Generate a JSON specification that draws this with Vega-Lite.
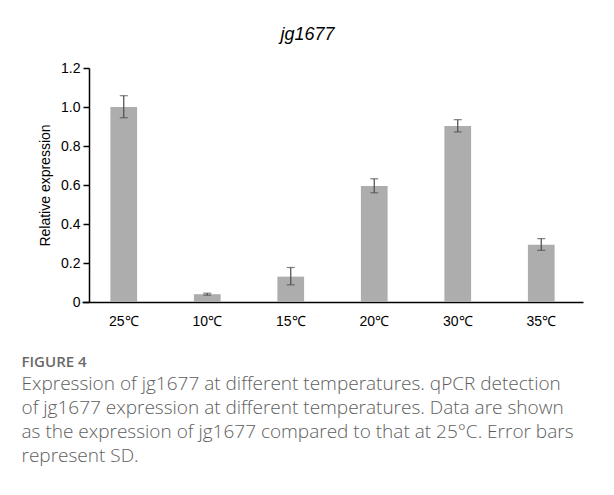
{
  "$schema": "https://vega.github.io/schema/vega-lite/v6.json",
  "background": "white",
  "padding": {"left": 21, "top": 26, "right": 30, "bottom": 30},
  "title": {
    "text": "FIGURE 4",
    "subtitle": ["Expression of jg1677 at different temperatures. qPCR detection", "of jg1677 expression at different temperatures. Data are shown", "as the expression of jg1677 compared to that at 25°C. Error bars", "represent SD."],
    "orient": "bottom",
    "anchor": "start",
    "frame": "bounds",
    "font": "Open Sans",
    "fontSize": 15,
    "fontWeight": 600,
    "color": "#6a6a6a",
    "subtitleFont": "Open Sans",
    "subtitleFontSize": 19,
    "subtitleFontWeight": 300,
    "subtitleColor": "#5e5e5e",
    "subtitleLineHeight": 24,
    "subtitlePadding": 5,
    "offset": 27,
    "dx": -17
  },
  "vconcat": [
    {
      "width": 501,
      "height": 234,
      "title": {"text": "jg1677", "font": "Liberation Sans", "fontStyle": "italic", "fontWeight": "normal", "fontSize": 18, "color": "black", "offset": 17, "dx": -25},
      "data": {"values": [
        {"temp": "25℃", "value": 1.0, "lo": 0.945, "hi": 1.058},
        {"temp": "10℃", "value": 0.04, "lo": 0.035, "hi": 0.045},
        {"temp": "15℃", "value": 0.13, "lo": 0.088, "hi": 0.177},
        {"temp": "20℃", "value": 0.595, "lo": 0.56, "hi": 0.632},
        {"temp": "30℃", "value": 0.902, "lo": 0.872, "hi": 0.935},
        {"temp": "35℃", "value": 0.294, "lo": 0.265, "hi": 0.325}
      ]},
      "encoding": {
        "x": {"field": "temp", "type": "nominal", "sort": null,
          "scale": {"paddingInner": 0.68, "paddingOuter": 0.34},
          "axis": {"title": null, "labelAngle": 0, "ticks": false, "domainColor": "black", "domainWidth": 1.5, "labelFont": "Liberation Sans", "labelFontSize": 14, "labelColor": "black", "labelPadding": 12}}
      },
      "layer": [
        {"mark": {"type": "bar", "color": "#adadad"},
         "encoding": {"y": {"field": "value", "type": "quantitative", "scale": {"domain": [0, 1.2], "nice": false},
           "axis": {"title": "Relative expression", "values": [0, 0.2, 0.4, 0.6, 0.8, 1.0, 1.2], "labelExpr": "datum.value == 0 ? '0' : format(datum.value, '.1f')", "labelOverlap": false, "grid": false, "offset": -7, "domainColor": "black", "domainWidth": 1.5, "tickColor": "black", "tickWidth": 1.5, "tickSize": 6, "labelFont": "Liberation Sans", "labelFontSize": 14, "labelColor": "black", "labelPadding": 3, "titleFont": "Liberation Sans", "titleFontSize": 14, "titleFontWeight": "normal", "titleColor": "black", "titlePadding": 8}}}},
        {"mark": {"type": "rule", "color": "#4a4a4a", "strokeWidth": 1.2},
         "encoding": {"y": {"field": "lo", "type": "quantitative",
           "axis": {"title": "Relative expression", "values": [0, 0.2, 0.4, 0.6, 0.8, 1.0, 1.2], "labelExpr": "datum.value == 0 ? '0' : format(datum.value, '.1f')", "labelOverlap": false, "grid": false, "offset": -7, "domainColor": "black", "domainWidth": 1.5, "tickColor": "black", "tickWidth": 1.5, "tickSize": 6, "labelFont": "Liberation Sans", "labelFontSize": 14, "labelColor": "black", "labelPadding": 3, "titleFont": "Liberation Sans", "titleFontSize": 14, "titleFontWeight": "normal", "titleColor": "black", "titlePadding": 8}}, "y2": {"field": "hi"}}},
        {"mark": {"type": "tick", "color": "#4a4a4a", "size": 8, "thickness": 1.2},
         "encoding": {"y": {"field": "lo", "type": "quantitative",
           "axis": {"title": "Relative expression", "values": [0, 0.2, 0.4, 0.6, 0.8, 1.0, 1.2], "labelExpr": "datum.value == 0 ? '0' : format(datum.value, '.1f')", "labelOverlap": false, "grid": false, "offset": -7, "domainColor": "black", "domainWidth": 1.5, "tickColor": "black", "tickWidth": 1.5, "tickSize": 6, "labelFont": "Liberation Sans", "labelFontSize": 14, "labelColor": "black", "labelPadding": 3, "titleFont": "Liberation Sans", "titleFontSize": 14, "titleFontWeight": "normal", "titleColor": "black", "titlePadding": 8}}}},
        {"mark": {"type": "tick", "color": "#4a4a4a", "size": 8, "thickness": 1.2},
         "encoding": {"y": {"field": "hi", "type": "quantitative",
           "axis": {"title": "Relative expression", "values": [0, 0.2, 0.4, 0.6, 0.8, 1.0, 1.2], "labelExpr": "datum.value == 0 ? '0' : format(datum.value, '.1f')", "labelOverlap": false, "grid": false, "offset": -7, "domainColor": "black", "domainWidth": 1.5, "tickColor": "black", "tickWidth": 1.5, "tickSize": 6, "labelFont": "Liberation Sans", "labelFontSize": 14, "labelColor": "black", "labelPadding": 3, "titleFont": "Liberation Sans", "titleFontSize": 14, "titleFontWeight": "normal", "titleColor": "black", "titlePadding": 8}}}}
      ]
    }
  ],
  "config": {"view": {"stroke": null}}
}
